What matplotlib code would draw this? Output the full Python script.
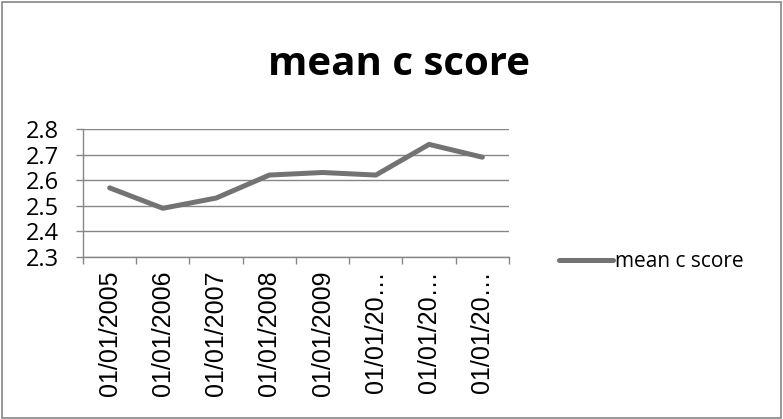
import matplotlib
matplotlib.use("Agg")
import matplotlib.pyplot as plt
from matplotlib.patches import Rectangle

# yearly mean c score
dates = ["01/01/2005", "01/01/2006", "01/01/2007", "01/01/2008",
         "01/01/2009", "01/01/20…", "01/01/20…", "01/01/20…"]
scores = [2.57, 2.49, 2.53, 2.62, 2.63, 2.62, 2.74, 2.69]
yticks = [2.3, 2.4, 2.5, 2.6, 2.7, 2.8]

grey = "#868686"

fig = plt.figure(figsize=(7.83, 4.19), dpi=100)
fig.patches.append(Rectangle((0.002, 0.002), 0.996, 0.994, transform=fig.transFigure,
                             fill=False, edgecolor=grey, linewidth=1.2))

ax = fig.add_axes([0.106, 0.387, 0.544, 0.305])
x = list(range(len(scores)))
line, = ax.plot(x, scores, color="#737373", linewidth=3.6, solid_capstyle="round",
                solid_joinstyle="round", label="mean c score", zorder=3)

ax.set_xlim(-0.5, len(scores) - 0.5)
ax.set_ylim(2.3, 2.8)
ax.set_yticks(yticks)
ax.set_yticklabels([f"{v:.1f}" for v in yticks], fontfamily="Open Sans", fontsize=17)
ax.yaxis.grid(True, color=grey, linewidth=1.0)
ax.set_axisbelow(True)

# ticks between categories, labels at the centres
ax.set_xticks([i - 0.5 for i in range(len(scores) + 1)])
ax.set_xticklabels([])
ax.set_xticks(x, minor=True)
ax.set_xticklabels(dates, minor=True, rotation=90, va="top", ha="center",
                   fontfamily="Liberation Sans", fontsize=18)
ax.tick_params(axis="x", which="major", length=5, color=grey, width=1)
ax.tick_params(axis="x", which="minor", length=0, pad=10)
ax.tick_params(axis="y", length=5, color=grey, width=1, pad=12)

for side in ["top", "right"]:
    ax.spines[side].set_visible(False)
for side in ["left", "bottom"]:
    ax.spines[side].set_color(grey)
    ax.spines[side].set_linewidth(1.0)

fig.text(0.51, 0.845, "mean c score", ha="center", va="center",
         fontfamily="Open Sans", fontweight="bold", fontsize=29)

fig.legend(handles=[line], loc="center left", bbox_to_anchor=(0.69, 0.375),
           frameon=False, handlelength=2.6, handletextpad=0.1,
           prop={"family": "Open Sans", "size": 15})

fig.savefig("out.png", dpi=100)
